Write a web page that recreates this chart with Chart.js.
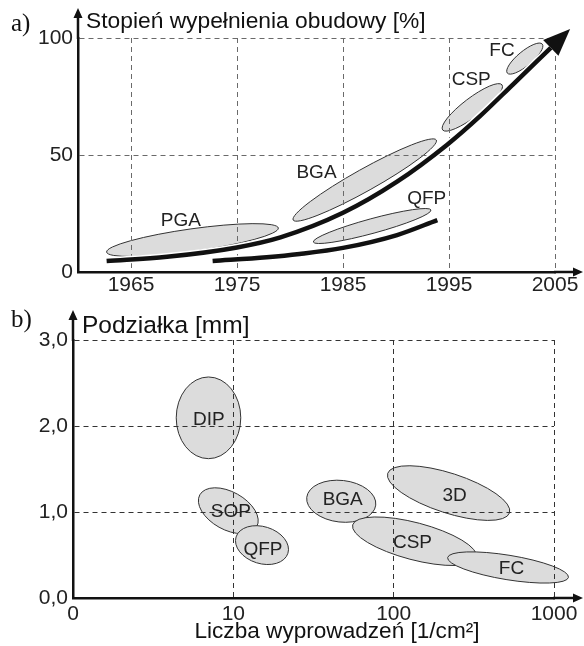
<!DOCTYPE html>
<html>
<head>
<meta charset="utf-8">
<script src="https://cdn.jsdelivr.net/npm/chart.js@4"></script>
<style>
  body { margin: 0; background: #fff; }
  #wrap { position: relative; width: 584px; height: 646px; }
  canvas { position: absolute; left: 0; }
</style>
</head>
<body>
<div id="wrap">
  <canvas id="chartA" width="584" height="298" style="top:0"></canvas>
  <canvas id="chartB" width="584" height="348" style="top:298px"></canvas>
</div>
<script>
// a) Stopień wypełnienia obudowy vs. rok
const yearTicks = [1965, 1975, 1985, 1995, 2005];
const fillTicks = [0, 50, 100];
const mainTrendYears = [1962.7, 1968.4, 1975, 1979.1, 1985, 1990.1, 1994.8, 1997.9, 2001, 2004.6];
const mainTrendFill = [4.7, 6.5, 10.5, 14.8, 25.3, 38.6, 54.3, 66.5, 80, 95.8];
const qfpTrendYears = [1972.7, 1977.8, 1980.9, 1985, 1990.1, 1993.9];
const qfpTrendFill = [4.7, 6.3, 7.7, 10.3, 15.8, 22.2];

const packagesA = ['PGA', 'BGA', 'QFP', 'CSP', 'FC'];
const packagesAFrom = [[1962.7, 8.5], [1980.3, 22.2], [1982.2, 12.8], [1994.4, 60.7], [2000.5, 85]];
const packagesATo = [[1978.9, 18.8], [1993.8, 56.4], [1993.3, 26.5], [2000, 80], [2003.8, 97.4]];
const packagesAWidth = [0.13, 0.135, 0.12, 0.25, 0.32];
const packagesALabel = [[1969.7, 21.8], [1982.5, 42.3], [1992.9, 31.2], [1997.1, 82.1], [2000, 94.4]];

// b) Podziałka vs. liczba wyprowadzeń
const leadTicks = [1, 10, 100, 1000];
const leadTickLabels = ['0', '10', '100', '1000'];
const pitchTicks = [0, 1, 2, 3];
const pitchTickLabels = ['0,0', '1,0', '2,0', '3,0'];

const packagesB = ['DIP', 'SOP', 'QFP', 'BGA', '3D', 'CSP', 'FC'];
const packagesBFrom = [[7.0, 2.57], [6.18, 1.20], [10.4, 0.71], [28.7, 1.17], [91.8, 1.45], [55.5, 0.85], [217, 0.47]];
const packagesBTo = [[7.0, 1.62], [14.0, 0.83], [21.9, 0.52], [77.3, 1.08], [528, 0.99], [329, 0.47], [1231, 0.24]];
const packagesBWidth = [0.79, 0.58, 0.68, 0.6, 0.31, 0.29, 0.2];
const packagesBLabel = [[7.04, 2.07], [9.65, 1.0], [15.3, 0.56], [48.1, 1.14], [240, 1.19], [131, 0.64], [543, 0.34]];

const FONT = "'Liberation Sans', Arial, sans-serif";
const SERIF = "'Liberation Serif', 'Times New Roman', serif";

// gray ellipses, drawn under the grid; names on top of everything
const ellipses = {
  id: 'ellipses',
  beforeDraw(chart, args, opts) {
    const { ctx, scales: { x, y } } = chart;
    ctx.save();
    opts.names.forEach((name, i) => {
      const x1 = x.getPixelForValue(opts.from[i][0]);
      const y1 = y.getPixelForValue(opts.from[i][1]);
      const x2 = x.getPixelForValue(opts.to[i][0]);
      const y2 = y.getPixelForValue(opts.to[i][1]);
      const r = Math.hypot(x2 - x1, y2 - y1) / 2;
      ctx.beginPath();
      ctx.ellipse((x1 + x2) / 2, (y1 + y2) / 2, r, r * opts.width[i], Math.atan2(y2 - y1, x2 - x1), 0, Math.PI * 2);
      ctx.fillStyle = '#dcdcdc';
      ctx.fill();
      ctx.lineWidth = 1;
      ctx.strokeStyle = '#333';
      ctx.stroke();
    });
    ctx.restore();
  },
  afterDraw(chart, args, opts) {
    const { ctx, scales: { x, y } } = chart;
    ctx.save();
    ctx.font = '19px ' + FONT;
    ctx.fillStyle = '#222';
    ctx.textAlign = 'center';
    ctx.textBaseline = 'middle';
    opts.names.forEach((name, i) => {
      ctx.fillText(name, x.getPixelForValue(opts.label[i][0]), y.getPixelForValue(opts.label[i][1]));
    });
    ctx.restore();
  }
};

// axis lines running past the plot area, with small arrowheads
const axisArrows = {
  id: 'axisArrows',
  afterDraw(chart, args, opts) {
    const { ctx, chartArea: a } = chart;
    const right = chart.width - 1;
    ctx.save();
    ctx.strokeStyle = ctx.fillStyle = '#111';
    ctx.lineWidth = 2.5;
    ctx.beginPath();
    ctx.moveTo(a.right - 1, a.bottom);
    ctx.lineTo(right - 6, a.bottom);
    ctx.moveTo(a.left, a.top + 1);
    ctx.lineTo(a.left, opts.top + 6);
    ctx.stroke();
    ctx.beginPath();
    ctx.moveTo(right, a.bottom);
    ctx.lineTo(right - 10, a.bottom - 4.5);
    ctx.lineTo(right - 10, a.bottom + 4.5);
    ctx.closePath();
    ctx.moveTo(a.left, opts.top);
    ctx.lineTo(a.left - 4.5, opts.top + 10);
    ctx.lineTo(a.left + 4.5, opts.top + 10);
    ctx.closePath();
    ctx.fill();
    ctx.restore();
  }
};

// big arrowhead at the end of the main trend curve
const trendArrow = {
  id: 'trendArrow',
  afterDraw(chart) {
    const { ctx, scales: { x, y } } = chart;
    const n = mainTrendYears.length;
    const px = x.getPixelForValue(mainTrendYears[n - 1]);
    const py = y.getPixelForValue(mainTrendFill[n - 1]);
    const qx = x.getPixelForValue(mainTrendYears[n - 2]);
    const qy = y.getPixelForValue(mainTrendFill[n - 2]);
    const len = Math.hypot(px - qx, py - qy);
    const ux = (px - qx) / len, uy = (py - qy) / len;
    const L = 27, W = 11;
    ctx.save();
    ctx.fillStyle = '#111';
    ctx.beginPath();
    ctx.moveTo(px + ux * L, py + uy * L);
    ctx.lineTo(px - uy * W, py + ux * W);
    ctx.lineTo(px + uy * W, py - ux * W);
    ctx.closePath();
    ctx.fill();
    ctx.restore();
  }
};

const captions = {
  id: 'captions',
  afterDraw(chart, args, opts) {
    const ctx = chart.ctx;
    ctx.save();
    ctx.fillStyle = '#111';
    ctx.textBaseline = 'alphabetic';
    opts.items.forEach(t => {
      ctx.font = t.font;
      ctx.textAlign = t.align || 'left';
      ctx.fillText(t.text, t.x, t.y);
    });
    ctx.restore();
  }
};

const tickFont = { family: FONT, size: 21 };

// black trend line; a wider white copy underneath gives the thin halo seen in the figure
const curve = (years, values, color, width) => ({
  data: years.map((yr, i) => ({ x: yr, y: values[i] })),
  borderColor: color,
  borderWidth: width,
  borderCapStyle: 'butt',
  pointRadius: 0,
  cubicInterpolationMode: 'monotone',
  clip: false,
});

new Chart(document.getElementById('chartA'), {
  type: 'line',
  data: {
    datasets: [
      curve(mainTrendYears, mainTrendFill, '#111', 4.5),
      curve(qfpTrendYears, qfpTrendFill, '#111', 4.5),
      curve(mainTrendYears, mainTrendFill, '#fff', 7.5),
      curve(qfpTrendYears, qfpTrendFill, '#fff', 7.5),
    ],
  },
  plugins: [ellipses, axisArrows, trendArrow, captions],
  options: {
    responsive: false,
    animation: false,
    layout: { padding: { top: 38, right: 29, left: 0, bottom: 0 } },
    plugins: {
      legend: { display: false },
      tooltip: { enabled: false },
      ellipses: { names: packagesA, from: packagesAFrom, to: packagesATo, width: packagesAWidth, label: packagesALabel },
      axisArrows: { top: 8 },
      captions: {
        items: [
          { text: 'a)', x: 11, y: 31, font: '25px ' + SERIF },
          { text: 'Stopień wypełnienia obudowy [%]', x: 86, y: 28, font: '22.8px ' + FONT },
        ],
      },
    },
    scales: {
      x: {
        type: 'linear',
        min: 1960,
        max: 2005,
        afterBuildTicks: (s) => { s.ticks = yearTicks.map(v => ({ value: v })); },
        afterFit: (s) => { s.height = 26; },
        grid: { color: '#6a6a6a', lineWidth: 1, drawTicks: false },
        border: { color: '#111', width: 2.5, dash: [5, 4] },
        ticks: { color: '#222', font: tickFont, padding: 1, autoSkip: false, maxRotation: 0, callback: (v) => String(v) },
      },
      y: {
        min: 0,
        max: 100,
        afterBuildTicks: (s) => { s.ticks = fillTicks.map(v => ({ value: v })); },
        afterFit: (s) => { s.width = 78; },
        grid: { color: '#6a6a6a', lineWidth: 1, drawTicks: false },
        border: { color: '#111', width: 2.5, dash: [5, 4] },
        ticks: { color: '#222', font: tickFont, padding: 5, callback: (v) => String(v) },
      },
    },
  },
});

new Chart(document.getElementById('chartB'), {
  type: 'scatter',
  data: { datasets: [] },
  plugins: [ellipses, axisArrows, captions],
  options: {
    responsive: false,
    animation: false,
    layout: { padding: { top: 42, right: 30, left: 0, bottom: 0 } },
    plugins: {
      legend: { display: false },
      tooltip: { enabled: false },
      ellipses: { names: packagesB, from: packagesBFrom, to: packagesBTo, width: packagesBWidth, label: packagesBLabel },
      axisArrows: { top: 12 },
      captions: {
        items: [
          { text: 'b)', x: 11, y: 29, font: '25px ' + SERIF },
          { text: 'Podziałka [mm]', x: 82, y: 35, font: '24.5px ' + FONT },
          { text: 'Liczba wyprowadzeń [1/cm²]', x: 337, y: 340, align: 'center', font: '22.6px ' + FONT },
        ],
      },
    },
    scales: {
      x: {
        type: 'logarithmic',
        min: 1,
        max: 1000,
        afterBuildTicks: (s) => { s.ticks = leadTicks.map(v => ({ value: v })); },
        afterFit: (s) => { s.height = 48; },
        grid: { color: '#333', lineWidth: 1, drawTicks: false },
        border: { color: '#111', width: 2.5, dash: [5, 4] },
        ticks: { color: '#222', font: tickFont, padding: 4, autoSkip: false, maxRotation: 0, callback: (v, i) => leadTickLabels[i] },
      },
      y: {
        min: 0,
        max: 3,
        afterBuildTicks: (s) => { s.ticks = pitchTicks.map(v => ({ value: v })); },
        afterFit: (s) => { s.width = 73; },
        grid: { color: '#333', lineWidth: 1, drawTicks: false },
        border: { color: '#111', width: 2.5, dash: [5, 4] },
        ticks: { color: '#222', font: tickFont, padding: 5, callback: (v, i) => pitchTickLabels[i] },
      },
    },
  },
});
</script>
</body>
</html>
